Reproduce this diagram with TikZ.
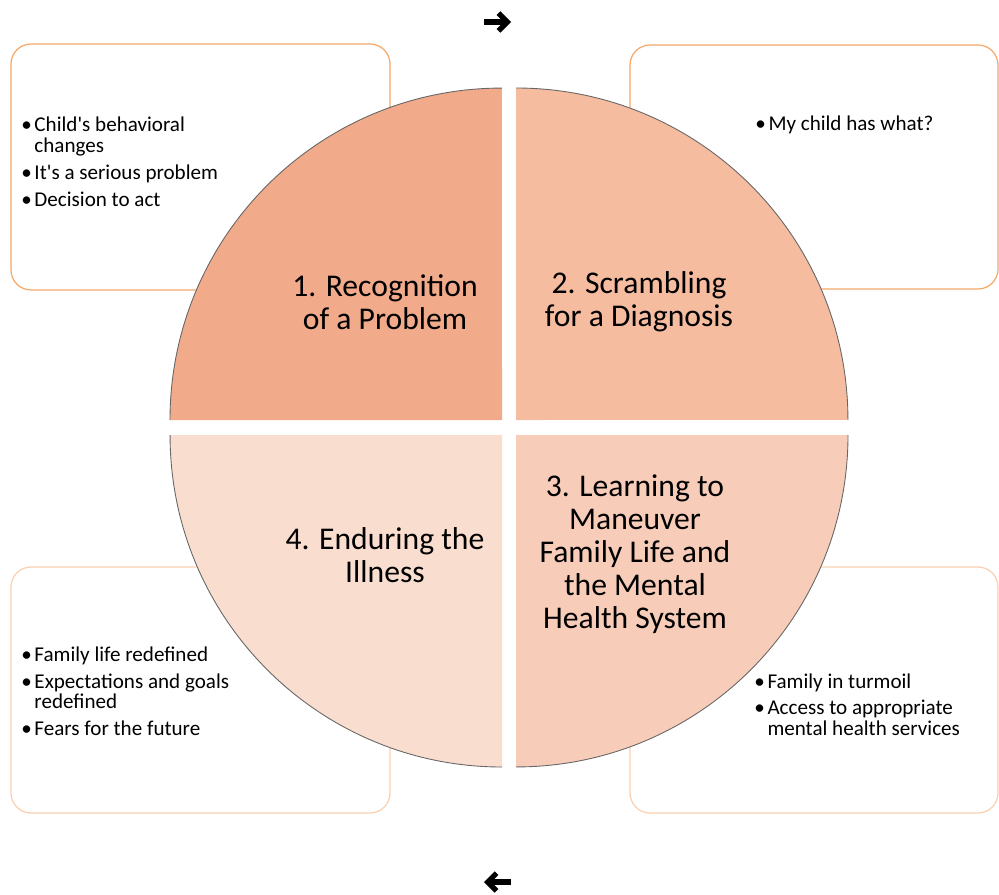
\documentclass[tikz,border=0pt]{standalone}
\usepackage{fontspec}
\setmainfont{Carlito}
\usetikzlibrary{arrows.meta}
\definecolor{rimtop}{RGB}{245,168,104}
\definecolor{rimbot}{RGB}{250,208,178}
\definecolor{stageA}{RGB}{241,170,138}
\definecolor{stageB}{RGB}{245,188,160}
\definecolor{stageC}{RGB}{247,205,185}
\definecolor{stageD}{RGB}{249,221,206}
\newcommand{\stagelist}[1]{{\renewcommand{\arraystretch}{1}%
\begin{tabular}{@{}l@{\hspace{1.5pt}}l@{}}#1\end{tabular}}}

\begin{document}
\begin{tikzpicture}[x=0.02cm, y=0.02cm,
notebox/.style={rounded corners=0.4cm, line width=0.7pt, fill=white},
rim/.style={draw=black!60, line width=0.5pt},
stage/.style={align=center, inner sep=0pt, font=\fontsize{18}{18.7}\selectfont},
points/.style={anchor=north west, inner sep=0pt, font=\fontsize{12}{11.3}\selectfont},
turn/.style={line width=3pt, -{Straight Barb[length=5pt, width=10pt]}}]
\useasboundingbox (0,0) rectangle (999,894);

\draw[notebox, draw=rimtop] (11,604) rectangle (390,850);
\draw[notebox, draw=rimtop] (630,605) rectangle (998,849);
\draw[notebox, draw=rimbot] (11,81) rectangle (390,327);
\draw[notebox, draw=rimbot] (630,81) rectangle (998,327);

\fill[stageA] (502,474) -- (170,474) arc[start angle=180, end angle=90, radius=6.64cm] -- cycle;
\fill[stageB] (516,474) -- (516,806) arc[start angle=90, end angle=0, radius=6.64cm] -- cycle;
\fill[stageC] (516,459) -- (848,459) arc[start angle=0, end angle=-90, radius=6.64cm] -- cycle;
\fill[stageD] (502,459) -- (502,127) arc[start angle=270, end angle=180, radius=6.64cm] -- cycle;
\draw[rim] (170,474) arc[start angle=180, end angle=90, radius=6.64cm];
\draw[rim] (516,806) arc[start angle=90, end angle=0, radius=6.64cm];
\draw[rim] (848,459) arc[start angle=0, end angle=-90, radius=6.64cm];
\draw[rim] (502,127) arc[start angle=270, end angle=180, radius=6.64cm];

\node[stage] (recog) at (385,592) {1. Recognition\\of a Problem};
\node[stage] (scramble) at (639,592) {2. Scrambling\\for a Diagnosis};
\node[stage] (learn) at (635,340) {3. Learning to\\Maneuver\\Family Life and\\the Mental\\Health System};
\node[stage] (endure) at (385,339) {4. Enduring the\\Illness};

\node[points] (recogpts) at (21,777) {\stagelist{%
\textbullet & Child\textquotesingle s behavioral\\ & changes\\[3.7pt]
\textbullet & It\textquotesingle s a serious problem\\[3.7pt]
\textbullet & Decision to act}};
\node[points] (scramblepts) at (755,778) {\stagelist{%
\textbullet & My child has what?}};
\node[points] (learnpts) at (754,221) {\stagelist{%
\textbullet & Family in turmoil\\[3.7pt]
\textbullet & Access to appropriate\\ & mental health services}};
\node[points] (endurepts) at (21,248) {\stagelist{%
\textbullet & Family life redefined\\[3.7pt]
\textbullet & Expectations and goals\\ & redefined\\[3.7pt]
\textbullet & Fears for the future}};

\coordinate (fwdtail) at (484,872);
\coordinate (fwdhead) at (511,872);
\coordinate (backtail) at (511,12);
\coordinate (backhead) at (484,12);
\draw[turn] (fwdtail) -- (fwdhead);
\draw[turn] (backtail) -- (backhead);
\end{tikzpicture}
\end{document}
